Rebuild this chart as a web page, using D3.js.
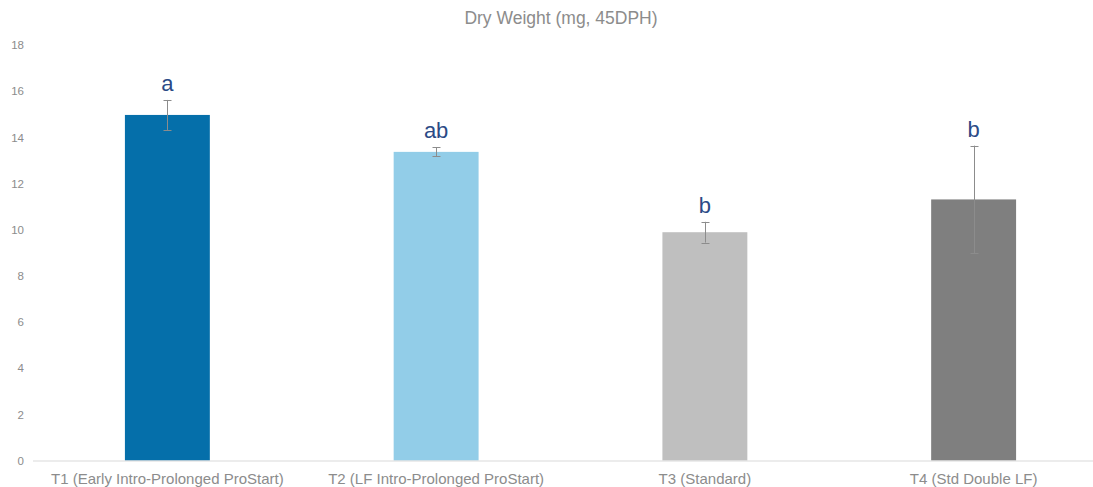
<!DOCTYPE html>
<html>
<head>
<meta charset="utf-8">
<script src="https://cdn.jsdelivr.net/npm/d3@7/dist/d3.min.js"></script>
<style>
  html, body { margin: 0; padding: 0; background: #fff; }
  svg { display: block; font-family: "Liberation Sans", Arial, sans-serif; }
</style>
</head>
<body>
<svg id="chart" width="1093" height="487"></svg>
<script>
const categories = ["T1 (Early Intro-Prolonged ProStart)", "T2 (LF Intro-Prolonged ProStart)", "T3 (Standard)", "T4 (Std Double LF)"];
const values = [14.97, 13.37, 9.89, 11.31];
const errors = [0.65, 0.19, 0.45, 2.33];
const letters = ["a", "ab", "b", "b"];
const colors = ["#056FAA", "#92CDE8", "#BFBFBF", "#7F7F7F"];
const yTicks = [0, 2, 4, 6, 8, 10, 12, 14, 16, 18];
const title = "Dry Weight (mg, 45DPH)";

const svg = d3.select("#chart");

const x = d3.scaleBand().domain(categories).range([33, 1108]).paddingInner(0.684).paddingOuter(0.342);
const y = d3.scaleLinear().domain([0, 18]).range([460.5, 45]);

// title
svg.append("text")
  .attr("x", 561).attr("y", 24)
  .attr("text-anchor", "middle")
  .attr("font-size", 17.5)
  .attr("fill", "#8C8C8C")
  .text(title);

// y axis labels
const yAxis = svg.append("g")
  .attr("transform", "translate(33,0)")
  .call(d3.axisLeft(y).tickValues(yTicks).tickSize(0).tickPadding(9));
yAxis.select(".domain").remove();
yAxis.selectAll("text").attr("font-size", 11.5).attr("fill", "#8C8C8C").attr("font-family", "Liberation Sans, Arial, sans-serif");

// bars
svg.append("g").selectAll("rect")
  .data(categories)
  .join("rect")
  .attr("x", d => x(d))
  .attr("y", (d, i) => y(values[i]))
  .attr("width", x.bandwidth())
  .attr("height", (d, i) => y(0) - y(values[i]))
  .attr("fill", (d, i) => colors[i]);

// x axis line
svg.append("line")
  .attr("x1", 33).attr("x2", 1108)
  .attr("y1", y(0) + 0.5).attr("y2", y(0) + 0.5)
  .attr("stroke", "#D9D9D9").attr("stroke-width", 1);

// x labels
const xAxis = svg.append("g")
  .attr("transform", `translate(0,${y(0)})`)
  .call(d3.axisBottom(x).tickSize(0).tickPadding(13));
xAxis.select(".domain").remove();
xAxis.selectAll("text").attr("font-size", 15).attr("fill", "#8C8C8C").attr("font-family", "Liberation Sans, Arial, sans-serif");

// error bars
const eb = svg.append("g").attr("stroke", "#8C8C8C").attr("stroke-width", 1);
categories.forEach((c, i) => {
  const cx = Math.round(x(c) + x.bandwidth() / 2) + 0.5;
  const top = y(values[i] + errors[i]);
  const bot = y(values[i] - errors[i]);
  eb.append("line").attr("x1", cx).attr("x2", cx).attr("y1", top).attr("y2", bot);
  eb.append("line").attr("x1", cx - 4).attr("x2", cx + 4).attr("y1", Math.round(top) + 0.5).attr("y2", Math.round(top) + 0.5);
  eb.append("line").attr("x1", cx - 4).attr("x2", cx + 4).attr("y1", Math.round(bot) + 0.5).attr("y2", Math.round(bot) + 0.5);
});

// significance letters
svg.append("g").selectAll("text")
  .data(categories)
  .join("text")
  .attr("x", d => x(d) + x.bandwidth() / 2)
  .attr("y", (d, i) => y(values[i] + errors[i]) - 9)
  .attr("text-anchor", "middle")
  .attr("font-size", 22)
  .attr("fill", "#2B4A86")
  .text((d, i) => letters[i]);
</script>
</body>
</html>
